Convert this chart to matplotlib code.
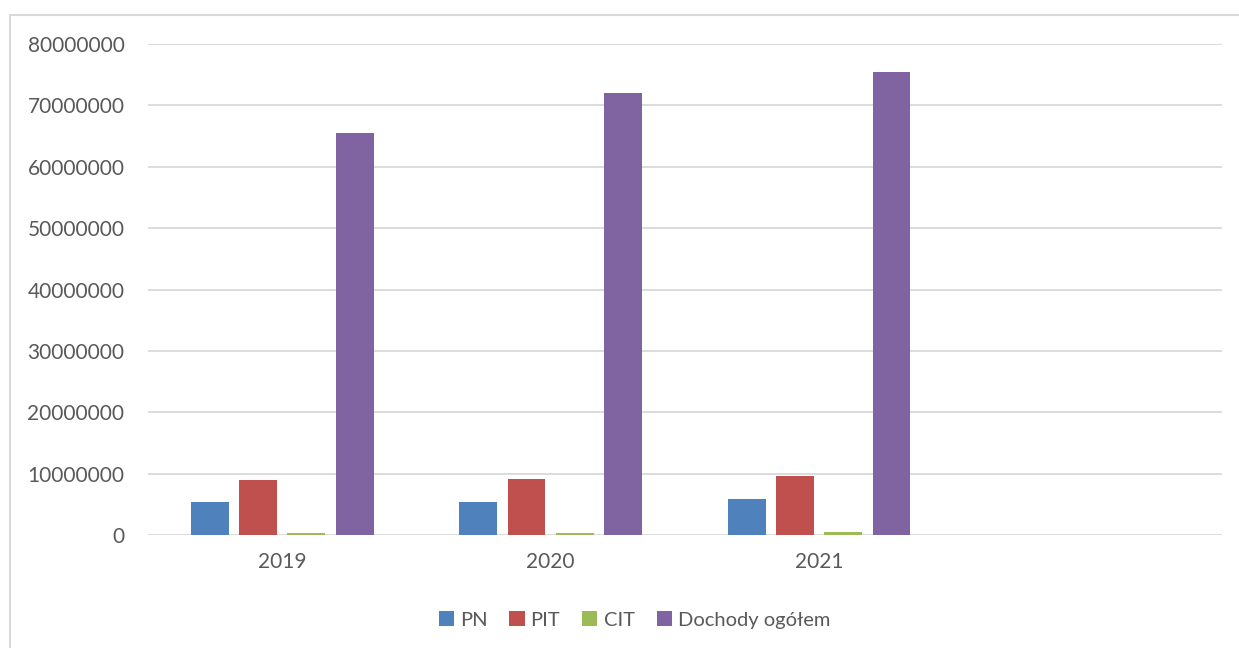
import matplotlib.pyplot as plt
import numpy as np
from matplotlib.patches import Rectangle

years = ['2019', '2020', '2021', '']
series = ['PN', 'PIT', 'CIT', 'Dochody ogółem']
pn = [5400000, 5400000, 5800000, 0]
pit = [8900000, 9100000, 9650000, 0]
cit = [300000, 300000, 500000, 0]
dochody = [65500000, 72100000, 75400000, 0]
colors = ['#4f81bd', '#c0504d', '#9bbb59', '#8064a2']

plt.rcParams['font.family'] = ['Lato', 'DejaVu Sans']

fig = plt.figure(figsize=(12.39, 6.48), dpi=100)
ax = fig.add_axes([0.1195, 0.1744, 0.8665, 0.7576])

# chart frame like in the spreadsheet export
fig.patches.append(Rectangle((10 / 1239, -0.1), 1.2, 1 - 15 / 648 + 0.1,
                             transform=fig.transFigure, fill=False,
                             edgecolor='#d9d9d9', linewidth=1.5))

x = np.arange(len(years))
width = 0.141
step = 0.18
for i, (vals, name) in enumerate(zip([pn, pit, cit, dochody], series)):
    ax.bar(x + (i - 1.5) * step, vals, width, color=colors[i], label=name,
           zorder=3)

ax.set_xlim(-0.5, 3.5)
ax.set_ylim(0, 80000000)
ax.set_yticks(np.arange(0, 80000001, 10000000))
ax.set_yticklabels([str(v) for v in range(0, 80000001, 10000000)])
ax.set_xticks(x)
ax.set_xticklabels(years)
ax.yaxis.grid(True, color='#d9d9d9', linewidth=1.3, zorder=0)
ax.tick_params(length=0, labelsize=15, labelcolor='#595959')
ax.tick_params(axis='y', pad=17)
ax.tick_params(axis='x', pad=12)
for s in ax.spines.values():
    s.set_visible(False)

leg = fig.legend(loc='center', bbox_to_anchor=(0.512, 1 - 620 / 648), ncol=4,
                 frameon=False, fontsize=14.5, handlelength=0.75,
                 handleheight=0.75, columnspacing=1.1, handletextpad=0.3)
for t in leg.get_texts():
    t.set_color('#595959')

fig.savefig('out.png', dpi=100)
